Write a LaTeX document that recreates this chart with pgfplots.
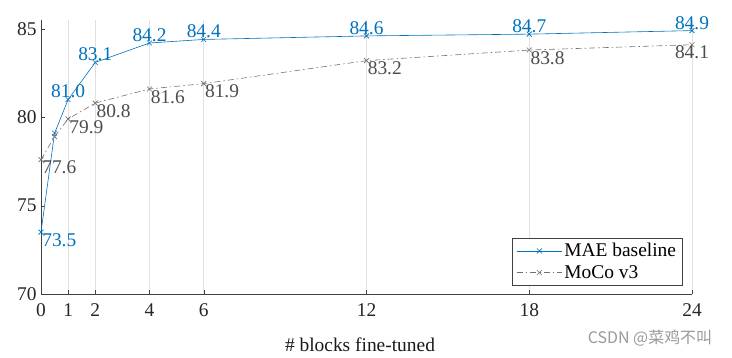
\documentclass[border=0pt]{standalone}
\usepackage{pgfplots}
\pgfplotsset{compat=1.18}
\usepackage{fontspec}
\setmainfont{Liberation Serif}
\newfontfamily\cjk{Noto Sans CJK SC}
\definecolor{maeblue}{HTML}{0072BD}
\definecolor{mocogray}{HTML}{4D4D4D}
\tikzset{lnw/.style={anchor=north west}, ls/.style={anchor=south}, ln/.style={anchor=north}}
\begin{document}
\begin{tikzpicture}
\useasboundingbox (-41bp,-64bp) rectangle (691bp,294bp);
\begin{axis}[
  at={(0,0)}, anchor=south west,
  scale only axis, width=651bp, height=274bp,
  xmin=0, xmax=24, ymin=70, ymax=85.5,
  axis x line*=bottom, axis y line*=left,
  axis line style={black!75, -},
  xtick={0,1,2,4,6,12,18,24},
  ytick={70,75,80,85},
  tick align=inside,
  major tick length=4bp,
  tick style={black!75},
  xmajorgrids, grid style={black!12, line width=0.6pt},
  font=\fontsize{19.5}{21}\selectfont,
  tick label style={font=\fontsize{19.5}{21}\selectfont, text=black!85},
  xticklabel style={yshift=-6bp},
  yticklabel style={xshift=-1bp},
  /pgf/number format/assume math mode=true,
  xlabel={\# blocks fine-tuned},
  xlabel style={at={(axis description cs:0.49,0)}, anchor=center, yshift=-51bp, text=black!90},
  legend style={at={(axis description cs:0.985,0.033)}, anchor=south east,
    draw=black!75, font=\fontsize{19.5}{21}\selectfont, inner xsep=4bp, inner ysep=3bp, row sep=3bp},
  legend cell align=left,
  legend image code/.code={\draw[mark repeat=2,mark phase=2] plot coordinates {(0cm,0cm) (0.8cm,0cm) (1.6cm,0cm)};},
  nodes near coords={\pgfplotspointmeta},
  point meta=explicit symbolic,
  visualization depends on={value \thisrow{anc} \as \myanc},
  every node near coord/.append style={\myanc, font=\fontsize{19.5}{21}\selectfont, inner sep=1bp},
]
\addplot[maeblue, line width=0.6pt, mark=x, mark size=3.5pt,
  every node near coord/.append style={text=maeblue}]
  table[meta=lab] {
x y lab anc
0 73.5 73.5 lnw
0.5 79.1 {} ls
1 81.0 81.0 ls
2 83.1 83.1 ls
4 84.2 84.2 ls
6 84.4 84.4 ls
12 84.6 84.6 ls
18 84.7 84.7 ls
24 84.9 84.9 ls
};
\addlegendentry{MAE baseline}
\addplot[mocogray!80, line width=0.6pt, dash pattern=on 6pt off 3pt on 1.5pt off 3pt, mark=x, mark size=3.5pt, mark options={solid},
  every node near coord/.append style={text=mocogray}]
  table[meta=lab] {
x y lab anc
0 77.6 77.6 lnw
0.5 78.9 {} ln
1 79.9 79.9 lnw
2 80.8 80.8 lnw
4 81.6 81.6 lnw
6 81.9 81.9 lnw
12 83.2 83.2 lnw
18 83.8 83.8 lnw
24 84.1 84.1 ln
};
\addlegendentry{MoCo v3}
\end{axis}
\node[anchor=center, text=black!40, font=\cjk\fontsize{16}{17}\selectfont] at (609bp,-44bp) {CSDN @菜鸡不叫};
\end{tikzpicture}
\end{document}
